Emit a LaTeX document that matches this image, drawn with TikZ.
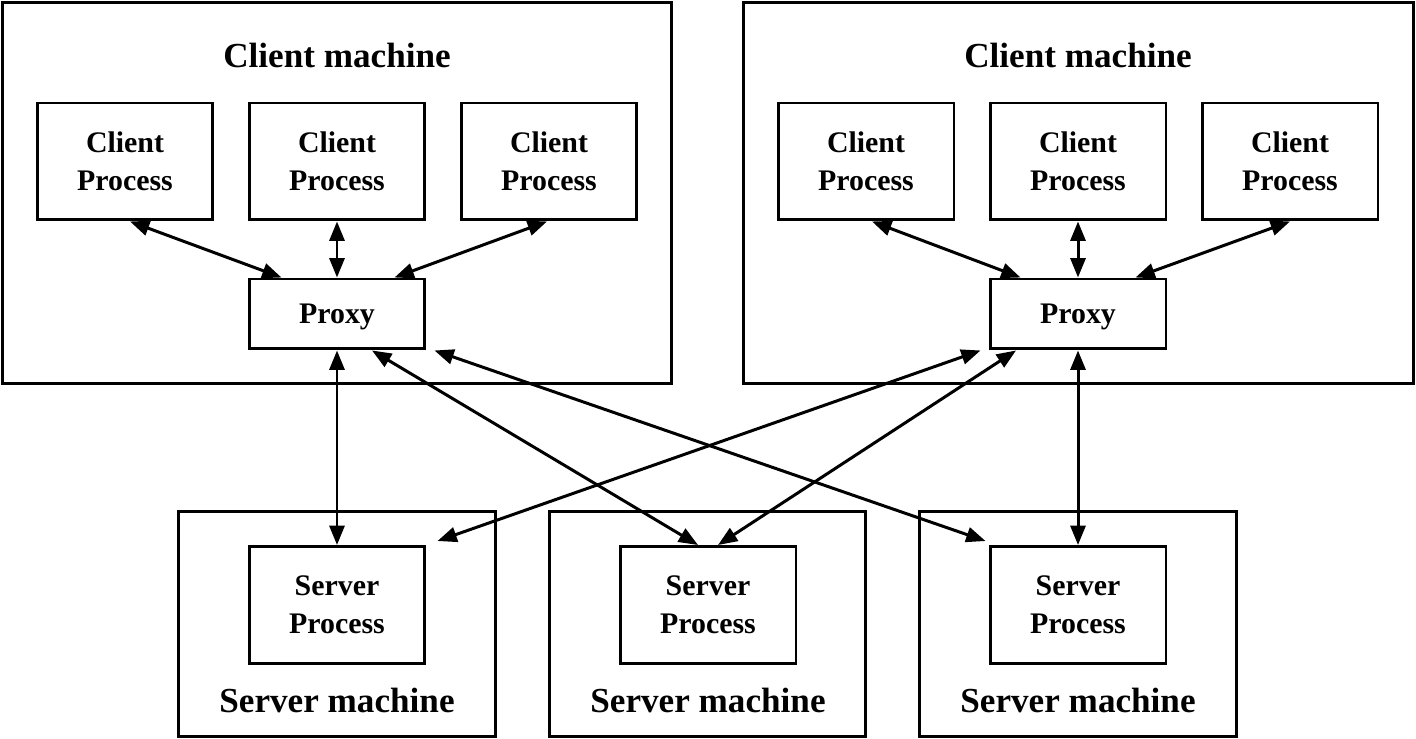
\documentclass[tikz,border=0pt]{standalone}
\usepackage{fontspec}
\setmainfont{Liberation Serif}
\usetikzlibrary{arrows.meta,calc}
\begin{document}
\begin{tikzpicture}[x=0.02cm,y=-0.02cm,
  box/.style={draw,line width=1.7pt,inner sep=0pt,align=center},
  proc/.style={box,minimum width=3.52cm,minimum height=2.34cm,font=\bfseries\fontsize{17}{21.5}\selectfont},
  prx/.style={box,minimum width=3.52cm,minimum height=1.4cm,text depth=0pt,font=\bfseries\fontsize{17}{21.5}\selectfont},
  title/.style={font=\bfseries\fontsize{20}{24}\selectfont,inner sep=0pt},
  tip/.style={Triangle[length=11pt,width=8.5pt]},
  conn/.style={line width=1.7pt,{Triangle[length=11pt,width=8.5pt]}-{Triangle[length=11pt,width=8.5pt]}}
]
\useasboundingbox (0,0) rectangle (1416,739);
% machines
\node[box,minimum width=13.4cm,minimum height=7.64cm] (cmL) at (337,193) {};
\node[box,minimum width=13.42cm,minimum height=7.64cm] (cmR) at (1078.5,193) {};
\node[box,minimum width=6.36cm,minimum height=4.52cm] (sm1) at (337,624) {};
\node[box,minimum width=6.34cm,minimum height=4.52cm] (sm2) at (707.5,624) {};
\node[box,minimum width=6.36cm,minimum height=4.52cm] (sm3) at (1078,624) {};
\node[title] (tL) at (337,55) {Client machine};
\node[title] (tR) at (1078,55) {Client machine};
\node[title] (ts1) at (337,700) {Server machine};
\node[title] (ts2) at (708,700) {Server machine};
\node[title] (ts3) at (1078,700) {Server machine};
% processes
\node[proc] (c1) at (125,161.5) {Client\\Process};
\node[proc] (c2) at (337,161.5) {Client\\Process};
\node[proc] (c3) at (549,161.5) {Client\\Process};
\node[proc] (c4) at (866,161.5) {Client\\Process};
\node[proc] (c5) at (1078,161.5) {Client\\Process};
\node[proc] (c6) at (1290,161.5) {Client\\Process};
\node[prx] (pL) at (337,314) {Proxy};
\node[prx] (pR) at (1078,314) {Proxy};
\node[proc] (s1) at (337,605) {Server\\Process};
\node[proc] (s2) at (708,605) {Server\\Process};
\node[proc] (s3) at (1078,605) {Server\\Process};
% client-proxy arrows
\draw[conn] ([xshift=0.1cm]c1.south) -- ([xshift=0.68cm]pL.north west);
\draw[conn] (c2.south) -- (pL.north);
\draw[conn] ([xshift=-0.04cm]c3.south) -- ([xshift=-0.64cm]pL.north east);
\draw[conn] ([xshift=0.12cm]c4.south) -- ([xshift=0.64cm]pR.north west);
\draw[conn] (c5.south) -- (pR.north);
\draw[conn] (c6.south) -- ([xshift=-0.64cm]pR.north east);
% proxy-server arrows
\draw[conn] (pL.south) -- (s1.north);
\draw[conn] ([xshift=0.7cm]pL.south) -- ([xshift=-0.2cm]s2.north);
\draw[conn] ([xshift=0.16cm]pL.south east) -- ([shift={(-0.06cm,0.08cm)}]s3.north west);
\draw[conn] ([xshift=-0.16cm]pR.south west) -- ([shift={(0.22cm,0.08cm)}]s1.north east);
\draw[conn] ([xshift=0.55cm]pR.south west) -- ([xshift=0.2cm]s2.north);
\draw[conn] (pR.south) -- (s3.north);
\end{tikzpicture}
\end{document}
